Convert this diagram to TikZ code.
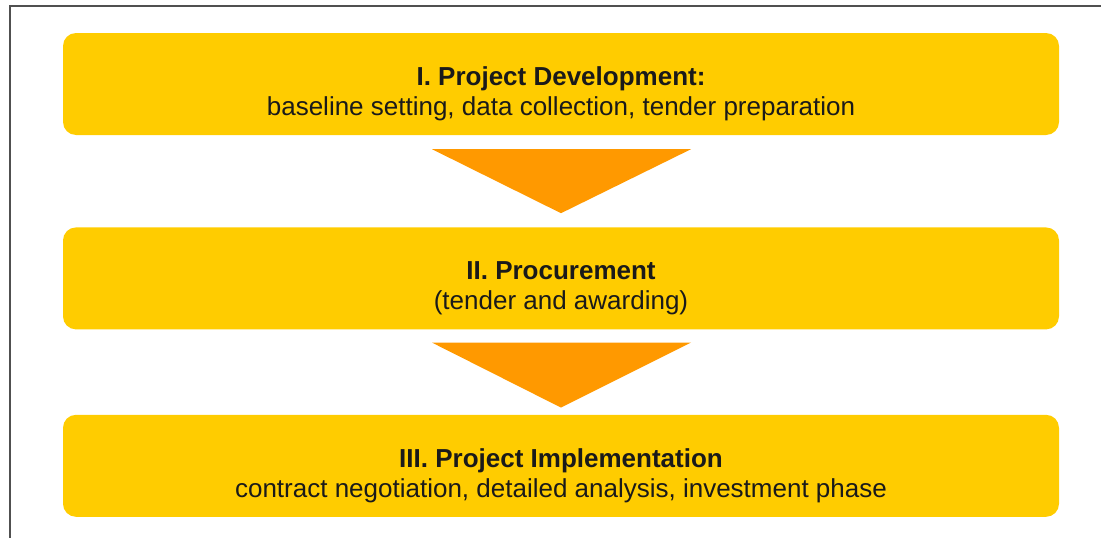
\documentclass[tikz,border=0pt]{standalone}
\usepackage{fontspec}
\setmainfont{Liberation Sans}
\usetikzlibrary{positioning, calc}

\definecolor{phaseyellow}{HTML}{FFCC00}
\definecolor{arroworange}{HTML}{FF9900}
\definecolor{frameline}{HTML}{505050}
\definecolor{textdark}{HTML}{1A1A1A}

\begin{document}
\begin{tikzpicture}[
x=1pt, y=-1pt,
font=\fontsize{26}{30}\selectfont,
phase/.style={rectangle, rounded corners=13pt, fill=phaseyellow, text=textdark,
  minimum width=996pt, minimum height=102pt, align=center, inner sep=0pt},
label text/.style={text=textdark, align=center, inner sep=0pt},
pointer/.style={fill=arroworange}
]
\useasboundingbox (0,0) rectangle (1101,538);

% frame
\draw[frameline, line width=1.6pt] (10,538) -- (10,6) -- (1101,6);

\node[phase] (dev) at (561,84) {};
\node[phase, below=92pt of dev] (proc) {};
\node[phase, below=85pt of proc] (impl) {};

\node[label text] (devtext) at ($(dev.center)+(0,10)$)
  {\textbf{I. Project Development:}\\baseline setting, data collection, tender preparation};
\node[label text] (proctext) at ($(proc.center)+(0,10)$)
  {\textbf{II. Procurement}\\(tender and awarding)};
\node[label text] (impltext) at ($(impl.center)+(0,10)$)
  {\textbf{III. Project Implementation}\\contract negotiation, detailed analysis, investment phase};

\fill[pointer] ([xshift=-129pt,yshift=-14pt]dev.south) -- ([xshift=130pt,yshift=-14pt]dev.south)
  -- ([yshift=14pt]proc.north) -- cycle;
\fill[pointer] ([xshift=-129pt,yshift=-13pt]proc.south) -- ([xshift=130pt,yshift=-13pt]proc.south)
  -- ([yshift=7pt]impl.north) -- cycle;

\end{tikzpicture}
\end{document}
